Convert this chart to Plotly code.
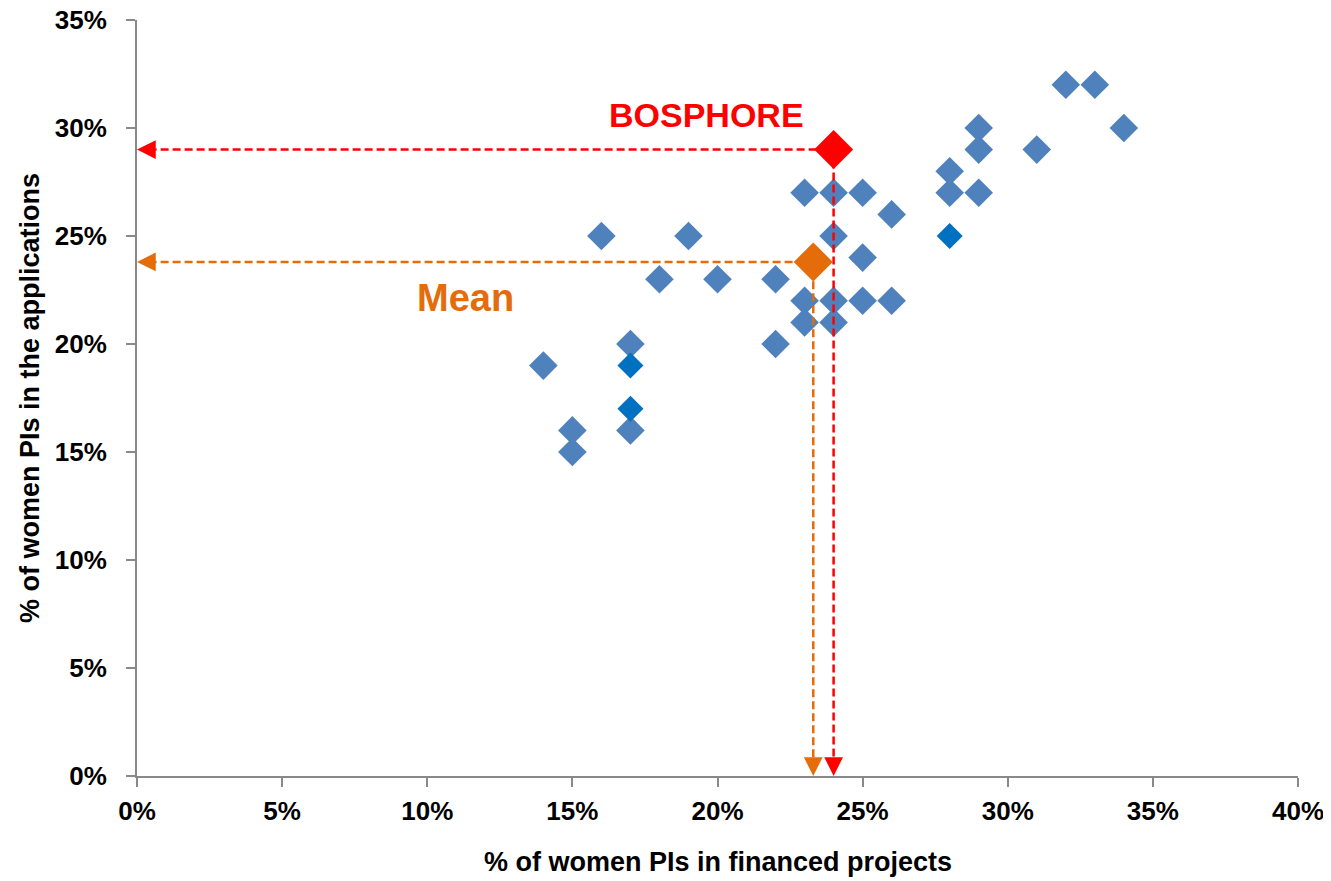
import plotly.graph_objects as go

# % of women PIs: financed projects (x) vs applications (y)
fin_pct = [14, 15, 15, 16, 17, 17, 18, 19, 20, 22, 22, 23, 23, 23,
           24, 24, 24, 24, 25, 25, 25, 26, 26, 28, 28, 29, 29, 29, 31, 32, 33, 34]
app_pct = [19, 16, 15, 25, 20, 16, 23, 25, 23, 23, 20, 27, 22, 21,
           27, 25, 22, 21, 27, 24, 22, 26, 22, 28, 27, 30, 29, 27, 29, 32, 32, 30]

# a few points drawn in a darker blue
dark_fin = [17, 17, 28]
dark_app = [19, 17, 25]

bosphore = (24, 29)
mean_pt = (23.3, 23.8)

BLUE = "#4F81BD"
DARK_BLUE = "#0070C0"
RED = "#FF0000"
ORANGE = "#E46C0A"
AXIS_GREY = "#898989"
FONT = "Liberation Sans"

fig = go.Figure()

fig.add_trace(go.Scatter(
    x=fin_pct, y=app_pct, mode="markers",
    marker=dict(symbol="diamond", size=22, color=BLUE),
    showlegend=False,
))
fig.add_trace(go.Scatter(
    x=dark_fin, y=dark_app, mode="markers",
    marker=dict(symbol="diamond", size=20, color=DARK_BLUE),
    showlegend=False,
))


def add_guides(pt, color):
    x, y = pt
    # dashed guides down to each axis, stopping short of the arrow head
    fig.add_trace(go.Scatter(
        x=[0.4, x, x], y=[y, y, 0.4], mode="lines",
        line=dict(color=color, width=2.5, dash="8px,4px"),
        hoverinfo="skip", showlegend=False,
    ))
    # arrow heads touching the axes
    fig.add_annotation(x=0, y=y, ax=0.6, ay=y, xref="x", yref="y",
                       axref="x", ayref="y", showarrow=True, arrowhead=2,
                       arrowsize=1.5, arrowwidth=2.5, arrowcolor=color,
                       standoff=0, text="")
    fig.add_annotation(x=x, y=0, ax=x, ay=0.7, xref="x", yref="y",
                       axref="x", ayref="y", showarrow=True, arrowhead=2,
                       arrowsize=1.5, arrowwidth=2.5, arrowcolor=color,
                       standoff=0, text="")


add_guides(bosphore, RED)
add_guides(mean_pt, ORANGE)

fig.add_trace(go.Scatter(
    x=[bosphore[0]], y=[bosphore[1]], mode="markers",
    marker=dict(symbol="diamond", size=30, color=RED), showlegend=False,
))
fig.add_trace(go.Scatter(
    x=[mean_pt[0]], y=[mean_pt[1]], mode="markers",
    marker=dict(symbol="diamond", size=30, color=ORANGE), showlegend=False,
))

fig.add_annotation(x=19.63, y=30.58, text="<b>BOSPHORE</b>", showarrow=False,
                   font=dict(size=34, color=RED, family=FONT))
fig.add_annotation(x=11.33, y=22.13, text="<b>Mean</b>", showarrow=False,
                   font=dict(size=38, color=ORANGE, family=FONT))

# axis titles
fig.add_annotation(x=0.5, y=0, xref="paper", yref="paper", yshift=-86,
                   xanchor="center", yanchor="middle",
                   text="<b>% of women PIs in financed projects</b>",
                   showarrow=False, font=dict(size=27, color="black", family=FONT))
fig.add_annotation(x=0, y=0.5, xref="paper", yref="paper", xshift=-107,
                   xanchor="center", yanchor="middle",
                   text="<b>% of women PIs in the applications</b>", textangle=-90,
                   showarrow=False, font=dict(size=27, color="black", family=FONT))

axis_common = dict(
    showgrid=False, zeroline=False, showline=True, linecolor=AXIS_GREY,
    linewidth=2, ticks="outside", tickcolor=AXIS_GREY, ticklen=9, tickwidth=2,
    dtick=5, ticksuffix="%", automargin=False, ticklabeloverflow="allow",
    tickfont=dict(size=26, color="black", family=FONT, weight="bold"),
)

# page body adds an 8px offset, so the figure is a little smaller than the window
fig.update_layout(
    width=1323, height=873,
    paper_bgcolor="white", plot_bgcolor="white",
    margin=dict(l=129, r=33, t=12, b=105),
    font=dict(family=FONT, color="black"),
    xaxis=dict(**axis_common, range=[0, 40.0001], ticklabelstandoff=2),
    yaxis=dict(**axis_common, range=[0, 35.0001], ticklabelstandoff=14),
)

fig.write_html("out.html")
